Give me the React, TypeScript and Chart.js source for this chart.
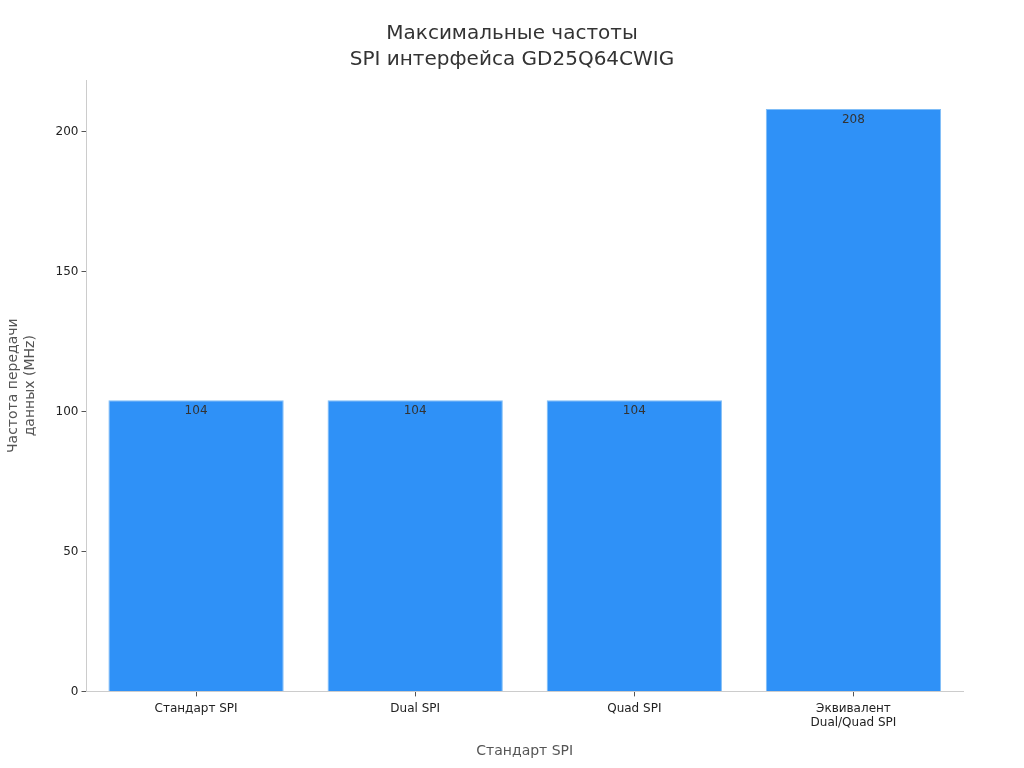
import { useEffect, useRef } from "react";
import { Chart, registerables } from "chart.js";

Chart.register(...registerables);

// ── Data ───────────────────────────────────────────────────────────────────
const CATEGORIES: (string | string[])[] = [
  "Стандарт SPI",
  "Dual SPI",
  "Quad SPI",
  ["Эквивалент", "Dual/Quad SPI"],
];
const FREQUENCIES = [104, 104, 104, 208];
const Y_TICKS = [0, 50, 100, 150, 200];
const TITLE = ["Максимальные частоты", "SPI интерфейса GD25Q64CWIG"];

const FONT = "'DejaVu Sans', sans-serif";

// values drawn just inside the top of each bar
const barValueLabels = {
  id: "barValueLabels",
  afterDatasetsDraw(chart: Chart) {
    const { ctx } = chart;
    const meta = chart.getDatasetMeta(0);
    ctx.save();
    ctx.font = `12px ${FONT}`;
    ctx.fillStyle = "#333";
    ctx.textAlign = "center";
    ctx.textBaseline = "top";
    meta.data.forEach((bar, i) => {
      const { x, y } = bar.getProps(["x", "y"], true) as { x: number; y: number };
      ctx.fillText(String(FREQUENCIES[i]), x, y + 5);
    });
    ctx.restore();
  },
};

// title centred on the whole canvas (layout padding is not symmetric)
const centredTitle = {
  id: "centredTitle",
  afterDraw(chart: Chart) {
    const { ctx, width } = chart;
    ctx.save();
    ctx.font = `20px ${FONT}`;
    ctx.fillStyle = "#333";
    ctx.textAlign = "center";
    ctx.textBaseline = "middle";
    TITLE.forEach((line, i) => ctx.fillText(line, width / 2, 34 + i * 26));
    ctx.restore();
  },
};

export default function App() {
  const canvasRef = useRef<HTMLCanvasElement>(null);
  const chartRef = useRef<Chart | null>(null);

  useEffect(() => {
    document.body.style.margin = "0";
    if (!canvasRef.current) return;
    chartRef.current?.destroy();

    chartRef.current = new Chart(canvasRef.current, {
      type: "bar",
      data: {
        labels: CATEGORIES,
        datasets: [{
          data: FREQUENCIES,
          backgroundColor: "#2f91f7",
          borderColor: "#7fbdf7",
          borderWidth: 1,
          barPercentage: 0.8,
          categoryPercentage: 1,
        }],
      },
      options: {
        animation: false,
        responsive: false,
        layout: { padding: { left: 5, right: 61, top: 80, bottom: 8 } },
        plugins: {
          legend: { display: false },
          tooltip: { enabled: false },
        },
        scales: {
          x: {
            grid: { display: true, offset: false, drawOnChartArea: false, drawTicks: true, tickLength: 5, color: "#555" },
            border: { color: "#ccc" },
            ticks: { color: "#222", font: { family: FONT, size: 12 }, padding: 5 },
            title: {
              display: true,
              text: "Стандарт SPI",
              color: "#555",
              font: { family: FONT, size: 14 },
              padding: { top: 8, bottom: 0 },
            },
          },
          y: {
            min: 0,
            max: 218.4,
            afterBuildTicks: (axis) => {
              axis.ticks = Y_TICKS.map((v) => ({ value: v }));
            },
            grid: { display: true, drawOnChartArea: false, drawTicks: true, tickLength: 5, color: "#555" },
            border: { color: "#ccc" },
            ticks: { color: "#222", font: { family: FONT, size: 12 }, padding: 3 },
            title: {
              display: true,
              text: ["Частота передачи", "данных (MHz)"],
              color: "#555",
              font: { family: FONT, size: 14, lineHeight: 1.2 },
              padding: { top: 0, bottom: 14 },
            },
          },
        },
      },
      plugins: [barValueLabels, centredTitle],
    });

    return () => { chartRef.current?.destroy(); };
  }, []);

  return (
    <div style={{ width: 1024, height: 768, background: "#fff" }}>
      <canvas ref={canvasRef} width={1024} height={768} />
    </div>
  );
}
